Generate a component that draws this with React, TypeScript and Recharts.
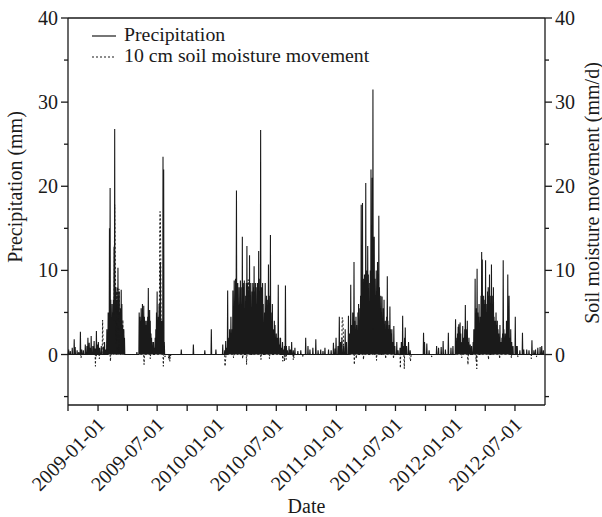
import React from 'react';
import { ComposedChart, Line, XAxis, YAxis, ReferenceLine, Legend } from 'recharts';

// [month, day, value]; days that are not listed are 0
type Obs = [number, number, number];

// daily precipitation (mm)
const rain2008: Obs[] = [
  [10, 3, 0.6], [10, 8, 0.4], [10, 14, 0.8], [10, 20, 1.8], [10, 23, 0.9], [10, 29, 0.5],
  [11, 3, 0.3], [11, 8, 2.7], [11, 12, 0.6], [11, 17, 0.5], [11, 23, 1.2], [11, 28, 1.0],
  [12, 1, 2.0], [12, 5, 1.4], [12, 8, 0.8], [12, 11, 2.2], [12, 16, 1.0], [12, 20, 1.6],
  [12, 23, 0.7], [12, 27, 2.8], [12, 30, 1.2],
];

const rain2009: Obs[] = [
  [1, 2, 1.5], [1, 6, 0.8], [1, 11, 1.0], [1, 17, 0.9], [1, 21, 1.5], [1, 24, 0.6], [1, 28, 3.0],
  [2, 1, 5.0], [2, 3, 3.0], [2, 5, 15.0], [2, 7, 19.8], [2, 9, 6.5], [2, 11, 4.0], [2, 13, 6.0],
  [2, 15, 5.0], [2, 17, 6.5], [2, 19, 12.8], [2, 21, 26.8], [2, 23, 7.0], [2, 25, 8.0], [2, 27, 6.5],
  [3, 1, 5.0], [3, 3, 10.3], [3, 5, 7.0], [3, 7, 7.5], [3, 9, 5.0], [3, 11, 5.5], [3, 13, 7.7],
  [3, 15, 6.0], [3, 17, 3.5], [3, 19, 3.0], [3, 21, 3.0], [3, 23, 2.0],
  [4, 30, 0.3], [5, 7, 5.0], [5, 9, 4.5], [5, 11, 4.0], [5, 13, 5.5], [5, 15, 3.0], [5, 17, 6.0],
  [5, 19, 4.5], [5, 21, 5.8], [5, 23, 4.5], [5, 25, 3.5], [5, 27, 4.0], [5, 29, 3.5], [5, 31, 4.0],
  [6, 2, 4.5], [6, 4, 7.9], [6, 6, 3.5], [6, 8, 5.3], [6, 10, 4.0], [6, 12, 2.5], [6, 14, 2.0],
  [6, 16, 1.5], [6, 18, 1.0], [6, 20, 1.5], [6, 23, 0.8], [6, 25, 2.0], [6, 27, 3.0], [6, 29, 5.0],
  [7, 1, 7.5], [7, 3, 4.0], [7, 5, 4.5], [7, 7, 6.0], [7, 9, 4.0], [7, 11, 11.0], [7, 13, 3.5],
  [7, 15, 4.0], [7, 17, 2.0], [7, 19, 23.5], [7, 21, 22.0], [7, 23, 1.5],
  [9, 13, 0.6], [10, 20, 1.2], [11, 24, 0.5], [12, 14, 3.0], [12, 28, 0.6],
];

const rain2010: Obs[] = [
  [1, 18, 1.2], [1, 24, 0.5], [1, 27, 1.6], [1, 30, 0.8],
  [2, 2, 7.6], [2, 4, 2.0], [2, 6, 1.0], [2, 8, 3.0], [2, 10, 2.2], [2, 12, 4.5], [2, 14, 1.5],
  [2, 16, 3.0], [2, 18, 7.6], [2, 20, 5.0], [2, 22, 8.8], [2, 24, 4.0], [2, 26, 9.0], [2, 28, 7.0],
  [3, 1, 19.5], [3, 3, 6.0], [3, 5, 8.5], [3, 7, 5.0], [3, 9, 8.0], [3, 11, 6.0], [3, 13, 8.8],
  [3, 15, 5.5], [3, 17, 8.0], [3, 19, 14.0], [3, 21, 8.0], [3, 23, 8.5], [3, 25, 8.8],
  [3, 29, 7.0], [3, 31, 8.5],
  [4, 2, 12.9], [4, 4, 8.5], [4, 6, 8.0], [4, 8, 7.5], [4, 10, 11.8], [4, 12, 7.0], [4, 14, 8.5],
  [4, 18, 7.5], [4, 20, 8.5], [4, 22, 8.0], [4, 24, 10.5], [4, 26, 7.5], [4, 28, 8.5],
  [4, 30, 8.0],
  [5, 2, 6.0], [5, 4, 8.5], [5, 6, 8.5], [5, 8, 12.3], [5, 10, 7.5], [5, 12, 9.0], [5, 14, 26.7],
  [5, 16, 8.0], [5, 18, 8.0], [5, 20, 8.5], [5, 22, 6.0], [5, 26, 5.0], [5, 28, 8.5],
  [5, 30, 4.0],
  [6, 1, 7.0], [6, 3, 6.5], [6, 5, 5.5], [6, 7, 10.7], [6, 9, 6.0], [6, 11, 7.0], [6, 13, 14.2],
  [6, 15, 5.0], [6, 17, 4.0], [6, 19, 6.0], [6, 23, 3.0], [6, 25, 4.0], [6, 27, 3.5],
  [6, 29, 2.0],
  [7, 1, 2.5], [7, 3, 2.0], [7, 5, 1.5], [7, 7, 8.3], [7, 9, 2.0], [7, 11, 1.2], [7, 14, 2.0],
  [7, 17, 0.8], [7, 20, 1.5], [7, 23, 0.6], [7, 26, 1.0], [7, 29, 8.2],
  [8, 1, 1.0], [8, 4, 0.5], [8, 9, 1.0], [8, 13, 0.6], [8, 17, 1.5], [8, 22, 0.5], [8, 27, 0.8],
  [9, 5, 0.4], [9, 14, 0.5], [9, 29, 2.0], [10, 6, 1.0], [10, 12, 0.6], [10, 21, 0.8],
  [10, 30, 1.8], [11, 6, 0.5], [11, 14, 0.6], [11, 21, 0.4], [11, 27, 0.8], [12, 8, 0.6],
  [12, 16, 0.5], [12, 23, 1.4], [12, 28, 0.7], [12, 31, 2.0],
];

const rain2011: Obs[] = [
  [1, 6, 1.0], [1, 10, 4.5], [1, 14, 1.5], [1, 18, 2.0], [1, 23, 1.0], [1, 28, 3.0],
  [2, 1, 1.5], [2, 7, 4.6], [2, 10, 2.5], [2, 12, 2.0], [2, 14, 8.3], [2, 16, 3.0], [2, 18, 3.5],
  [2, 20, 5.0], [2, 22, 2.5], [2, 24, 11.0], [2, 26, 4.0], [2, 28, 3.0],
  [3, 2, 4.5], [3, 4, 3.5], [3, 6, 2.5], [3, 8, 5.0], [3, 10, 6.0], [3, 14, 5.5],
  [3, 16, 7.0], [3, 18, 17.8], [3, 20, 8.0], [3, 22, 18.0], [3, 24, 7.5], [3, 26, 9.0],
  [3, 28, 9.5], [3, 30, 8.0],
  [4, 1, 20.4], [4, 3, 9.0], [4, 5, 10.0], [4, 7, 12.9], [4, 9, 9.5], [4, 13, 8.5],
  [4, 15, 10.0], [4, 17, 22.0], [4, 19, 10.5], [4, 21, 21.0], [4, 23, 31.5], [4, 25, 9.0],
  [4, 27, 14.0], [4, 29, 9.0],
  [5, 1, 7.0], [5, 3, 10.0], [5, 5, 6.5], [5, 7, 11.0], [5, 9, 6.0], [5, 11, 16.5], [5, 13, 8.0],
  [5, 15, 5.5], [5, 17, 7.0], [5, 21, 6.9], [5, 23, 4.0], [5, 25, 5.5], [5, 27, 6.5],
  [5, 29, 3.5], [5, 31, 4.0],
  [6, 2, 3.0], [6, 4, 4.5], [6, 6, 9.3], [6, 8, 4.0], [6, 10, 3.0], [6, 12, 3.5], [6, 14, 5.7],
  [6, 16, 3.0], [6, 18, 2.5], [6, 20, 3.0], [6, 22, 1.5], [6, 24, 1.0], [6, 26, 3.4], [6, 29, 1.0],
  [7, 5, 1.5], [7, 9, 0.5], [7, 15, 0.8], [7, 19, 1.5], [7, 23, 4.6], [7, 26, 1.0], [7, 29, 2.0],
  [7, 31, 3.2], [8, 4, 1.0], [8, 10, 1.5], [8, 15, 0.5], [9, 25, 2.6], [9, 28, 1.5], [10, 5, 1.3],
  [10, 12, 0.5], [11, 4, 1.0], [11, 10, 0.8], [11, 18, 0.9], [11, 24, 1.6], [12, 1, 0.6],
  [12, 10, 2.6], [12, 18, 0.8], [12, 24, 1.0],
];

const rain2012: Obs[] = [
  [1, 1, 4.2], [1, 3, 2.0], [1, 5, 1.5], [1, 7, 2.5], [1, 9, 3.3], [1, 11, 3.6], [1, 13, 1.5],
  [1, 15, 3.8], [1, 17, 2.5], [1, 19, 1.0], [1, 21, 1.5], [1, 23, 3.4], [1, 25, 2.0], [1, 27, 2.0],
  [1, 29, 3.0], [1, 31, 5.9],
  [2, 2, 2.5], [2, 4, 3.0], [2, 6, 4.0], [2, 8, 1.5], [2, 11, 2.0], [2, 13, 1.0], [2, 15, 1.2],
  [2, 19, 1.0], [2, 24, 1.5], [2, 26, 3.0], [2, 28, 2.0],
  [3, 1, 9.0], [3, 3, 4.0], [3, 5, 5.5], [3, 7, 10.2], [3, 9, 5.0], [3, 11, 4.5], [3, 13, 6.0],
  [3, 17, 4.5], [3, 19, 7.0], [3, 21, 12.2], [3, 23, 11.3], [3, 25, 6.5], [3, 27, 7.0],
  [3, 29, 6.0], [3, 31, 6.5],
  [4, 2, 11.2], [4, 4, 6.0], [4, 6, 5.0], [4, 8, 7.5], [4, 10, 8.0], [4, 12, 7.0], [4, 14, 9.5],
  [4, 16, 7.0], [4, 20, 10.7], [4, 22, 6.0], [4, 24, 7.0], [4, 26, 8.0], [4, 28, 4.5],
  [4, 30, 4.0],
  [5, 2, 4.0], [5, 4, 5.0], [5, 6, 3.5], [5, 8, 4.0], [5, 10, 3.0], [5, 12, 2.5], [5, 14, 2.0],
  [5, 16, 3.5], [5, 18, 1.5], [5, 20, 1.5], [5, 22, 2.0], [5, 24, 2.5], [5, 26, 11.2], [5, 28, 3.0],
  [5, 30, 2.0],
  [6, 1, 2.5], [6, 3, 2.0], [6, 5, 4.0], [6, 7, 3.0], [6, 9, 9.5], [6, 11, 4.5], [6, 13, 7.0],
  [6, 15, 2.0], [6, 18, 3.0], [6, 21, 1.5], [6, 25, 1.0],
  [7, 2, 4.5], [7, 5, 1.0], [7, 8, 1.0], [7, 16, 0.5], [7, 24, 2.6], [7, 28, 0.6], [8, 6, 0.6],
  [8, 13, 0.5], [8, 22, 1.7], [8, 28, 0.5], [9, 2, 0.6], [9, 9, 0.8], [9, 16, 0.9], [9, 21, 1.0],
  [9, 26, 0.5],
];

// daily 10 cm soil moisture movement (mm/d)
const soil2008: Obs[] = [[11, 10, -0.4], [12, 24, -1.4], [12, 26, -0.3]];

const soil2009: Obs[] = [
  [1, 5, -0.5], [1, 14, 1.0], [1, 15, 4.1], [1, 16, 2.5], [1, 29, 1.5], [2, 8, -0.8], [2, 19, 4.0],
  [2, 20, 12.0], [2, 21, 17.8], [2, 22, 14.0], [2, 23, 9.0], [2, 25, 6.0], [2, 27, 7.5], [3, 2, 8.0],
  [3, 4, 6.5], [3, 6, 7.8], [3, 8, 5.0], [3, 10, 3.0], [3, 14, 2.0], [3, 18, 4.1], [3, 20, 3.0],
  [3, 22, 1.0], [5, 22, -1.2], [6, 10, -0.5], [7, 8, 6.0], [7, 9, 15.0], [7, 10, 17.0],
  [7, 11, 16.0], [7, 12, 12.0], [7, 13, 5.0], [7, 14, 1.0], [7, 20, -1.4], [7, 25, -0.3],
  [8, 5, -0.4], [8, 7, -0.6], [8, 9, -0.8], [8, 11, -0.3],
];

const soil2010: Obs[] = [
  [1, 25, -1.4], [1, 26, -0.8], [1, 27, -0.6], [2, 20, -0.4], [3, 5, 0.8], [3, 20, -0.5],
  [4, 1, -1.2], [4, 4, 3.0], [4, 5, 6.0], [4, 6, 8.9], [4, 7, 7.0], [4, 8, 4.0], [4, 9, 1.0],
  [5, 15, -0.6], [6, 10, -0.5], [7, 21, -0.8], [7, 26, -0.8], [7, 31, -0.6], [8, 22, -0.6],
  [8, 24, -0.4], [9, 20, -0.3],
];

const soil2011: Obs[] = [
  [1, 18, 2.0], [1, 19, 4.4], [1, 20, 4.2], [1, 21, 4.0], [1, 22, 3.0], [1, 23, 1.0], [2, 25, -1.2],
  [3, 3, -0.5], [3, 25, -0.6], [4, 23, 3.0], [4, 24, 5.0], [4, 25, 2.0], [5, 4, -0.7], [6, 1, -0.5],
  [6, 25, -0.5], [7, 16, -1.6], [7, 28, -1.7], [8, 14, -0.3], [8, 15, -0.5], [8, 16, -0.8],
  [8, 17, -0.4], [10, 20, -0.3],
];

const soil2012: Obs[] = [
  [1, 20, -0.4], [2, 8, -1.2], [3, 4, -0.8], [3, 6, -1.7], [4, 11, -0.6], [5, 15, -0.5],
  [6, 20, -0.4], [7, 10, -0.3], [8, 20, -0.5], [9, 5, -0.3],
];

const xTickDates = [
  '2008-10-01', '2009-01-01', '2009-04-01', '2009-07-01', '2009-10-01', '2010-01-01',
  '2010-04-01', '2010-07-01', '2010-10-01', '2011-01-01', '2011-04-01', '2011-07-01',
  '2011-10-01', '2012-01-01', '2012-04-01', '2012-07-01',
];
const yTicks = [-5, 0, 5, 10, 15, 20, 25, 30, 35, 40];

const seriesNames = ['Precipitation', '10 cm soil moisture movement'];

const FONT = '"Liberation Serif", "Times New Roman", serif';
const INK = '#1a1a1a';
const DAY = 86400000;
const START = Date.UTC(2008, 9, 1);
const END = Date.UTC(2012, 9, 1);

const parseDate = (s: string) => {
  const [y, m, d] = s.split('-').map(Number);
  return Date.UTC(y, m - 1, d);
};

const toMap = (years: [number, Obs[]][]) => {
  const m = new Map<number, number>();
  years.forEach(([y, obs]) => obs.forEach(([mo, d, v]) => m.set(Date.UTC(y, mo - 1, d), v)));
  return m;
};

const rainMap = toMap([[2008, rain2008], [2009, rain2009], [2010, rain2010], [2011, rain2011], [2012, rain2012]]);
const soilMap = toMap([[2008, soil2008], [2009, soil2009], [2010, soil2010], [2011, soil2011], [2012, soil2012]]);

const data: { t: number; precipitation: number; soil: number }[] = [];
for (let t = START; t < END; t += DAY) {
  data.push({ t, precipitation: rainMap.get(t) ?? 0, soil: soilMap.get(t) ?? 0 });
}

const xTicks = xTickDates.map(parseDate);
const labelFor = (t: number) => {
  const s = xTickDates[xTicks.indexOf(t)] || '';
  return s.slice(5, 7) === '01' || s.slice(5, 7) === '07' ? s : '';
};

const XTick = ({ x, y, payload }: any) => {
  const label = labelFor(payload.value);
  if (!label) return null;
  const ax = x + 8;
  const ay = y + 13;
  return (
    <text x={ax} y={ay} transform={`rotate(-45, ${ax}, ${ay})`} textAnchor="end"
      fontSize={20} fontFamily={FONT} fill={INK}>
      {label}
    </text>
  );
};

// tickSize 7 + tickMargin 2 between the tick position and the axis line
const YTick = ({ x, y, payload, side }: any) => {
  const v = payload.value;
  const major = v % 10 === 0;
  const dir = side === 'left' ? -1 : 1;
  const ax = x - dir * 9;
  return (
    <g>
      <line x1={ax} x2={ax + dir * (major ? 7 : 4)} y1={y} y2={y} stroke={INK} strokeWidth={1.3} />
      {major && (
        <text x={ax + dir * 10} y={y} dy={7} textAnchor={side === 'left' ? 'end' : 'start'}
          fontSize={20} fontFamily={FONT} fill={INK}>
          {v}
        </text>
      )}
    </g>
  );
};

// legend text is a touch condensed vertically in the reference, so it is drawn at 18px and widened
const LegendBox = () => (
  <div style={{ fontFamily: FONT, fontSize: 18, color: INK, lineHeight: '21px' }}>
    {seriesNames.map((name, i) => (
      <div key={name} style={{ display: 'flex', alignItems: 'center', height: 21, whiteSpace: 'nowrap' }}>
        <svg width={24} height={8}>
          <line x1={0} x2={24} y1={4} y2={4} stroke={INK} strokeWidth={1.2}
            strokeDasharray={i === 1 ? '2 2' : undefined} />
        </svg>
        <span style={{ marginLeft: 8, display: 'inline-block', transform: 'scaleX(1.1)', transformOrigin: 'left center' }}>
          {name}
        </span>
      </div>
    ))}
  </div>
);

const rotatedTitle = (text: string, dx: number, dy: number) => ({ viewBox }: any) => {
  const cx = viewBox.x + dx;
  const cy = viewBox.y + dy;
  return (
    <text x={cx} y={cy} transform={`rotate(-90, ${cx}, ${cy})`} textAnchor="middle"
      fontSize={20} fontFamily={FONT} fill={INK}>
      {text}
    </text>
  );
};

export default function App() {
  return (
    <div style={{ position: 'absolute', left: 0, top: 0, background: '#fff' }}>
      <ComposedChart width={602} height={517} data={data}
        margin={{ top: 18, right: 0, bottom: 0, left: 0 }}>
        <XAxis dataKey="t" type="number" domain={[START, END]} ticks={xTicks} interval={0}
          height={112} tickSize={6} tickMargin={2} tick={<XTick />}
          axisLine={{ stroke: INK, strokeWidth: 1.3 }} tickLine={{ stroke: INK, strokeWidth: 1.3 }}
          label={{ content: ({ viewBox }: any) => (
            <text x={viewBox.x + viewBox.width / 2} y={viewBox.y + 108} textAnchor="middle"
              fontSize={20} fontFamily={FONT} fill={INK}>Date</text>
          ) }} />
        <YAxis yAxisId="left" domain={[-6, 40]} ticks={yTicks} interval={0} allowDataOverflow
          width={68} tickSize={7} tickMargin={2} tickLine={false}
          tick={<YTick side="left" />} axisLine={{ stroke: INK, strokeWidth: 1.3 }}
          label={{ content: rotatedTitle('Precipitation (mm)', 22, 169) }} />
        <YAxis yAxisId="right" orientation="right" domain={[-6, 40]} ticks={yTicks} interval={0}
          allowDataOverflow width={57} tickSize={7} tickMargin={2} tickLine={false}
          tick={<YTick side="right" />} axisLine={{ stroke: INK, strokeWidth: 1.3 }}
          label={{ content: rotatedTitle('Soil moisture movement (mm/d)', 54, 175) }} />
        <ReferenceLine yAxisId="left" y={40} stroke={INK} strokeWidth={1.3} />
        <Line yAxisId="left" dataKey="precipitation" name={seriesNames[0]} type="linear"
          stroke={INK} strokeWidth={1.1} dot={false} activeDot={false} isAnimationActive={false} />
        <Line yAxisId="right" dataKey="soil" name={seriesNames[1]} type="linear"
          stroke={INK} strokeWidth={1} strokeDasharray="2 2" dot={false} activeDot={false}
          isAnimationActive={false} />
        <Legend layout="horizontal" verticalAlign="middle" align="center"
          wrapperStyle={{ left: 92, top: 25, width: 'auto' }} content={<LegendBox />} />
      </ComposedChart>
    </div>
  );
}
